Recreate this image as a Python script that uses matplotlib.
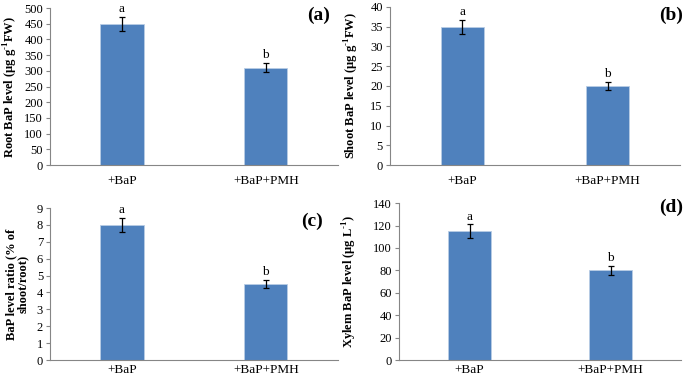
import matplotlib
matplotlib.use("Agg")
import matplotlib.pyplot as plt

plt.rcParams['font.family'] = ['Liberation Serif', 'DejaVu Serif']
plt.rcParams['mathtext.fontset'] = 'custom'
plt.rcParams['mathtext.rm'] = 'Liberation Serif'
plt.rcParams['mathtext.bf'] = 'Liberation Serif:bold'

categories = ["+BaP", "+BaP+PMH"]
root_vals = [450, 310]
root_err = [22, 15]
shoot_vals = [35, 20]
shoot_err = [1.8, 1.1]
ratio_vals = [8.0, 4.5]
ratio_err = [0.4, 0.25]
xylem_vals = [115, 80]
xylem_err = [6, 4]
letters = ["a", "b"]

sup = r"$^{\mathbf{\text{-}1}}$"
panels = [
    dict(pos=[0.073, 0.5646, 0.420, 0.414], vals=root_vals, err=root_err, ylim=500, step=50,
         ylabel="Root BaP level (µg g" + sup + "FW)", tag="(a)", tagx=0.972, tagy=1.01, lx=-0.104, xpad=7),
    dict(pos=[0.569, 0.5646, 0.424, 0.417], vals=shoot_vals, err=shoot_err, ylim=40, step=5,
         ylabel="Shoot BaP level (µg g" + sup + "FW)", tag="(b)", tagx=1.01, tagy=1.0, lx=-0.10, xpad=7),
    dict(pos=[0.073, 0.0501, 0.420, 0.401], vals=ratio_vals, err=ratio_err, ylim=9, step=1,
         ylabel="BaP level ratio (% of\nshoot/root)", tag="(c)", tagx=0.948, tagy=0.967, lx=-0.073, xpad=3),
    dict(pos=[0.5825, 0.0501, 0.4117, 0.414], vals=xylem_vals, err=xylem_err, ylim=140, step=20,
         ylabel="Xylem BaP level (µg L" + sup + ")", tag="(d)", tagx=1.007, tagy=1.03, lx=-0.142, xpad=3),
]

fig = plt.figure(figsize=(6.85, 3.79), dpi=100)
for p in panels:
    ax = fig.add_axes(p["pos"])
    x = list(range(len(categories)))
    ax.bar(x, p["vals"], width=0.3, color="#4F81BD", edgecolor="#B9CDE5", linewidth=0.6, zorder=2)
    ax.errorbar(x, p["vals"], yerr=p["err"], fmt="none", ecolor="black", elinewidth=0.9,
                capsize=2.5, capthick=0.9, zorder=3)
    for xi, v, e, l in zip(x, p["vals"], p["err"], letters):
        ax.text(xi, v + e + p["ylim"] * 0.012, l, ha="center", va="bottom", fontsize=9.5)
    ax.set_xlim(-0.5, 1.5)
    ax.set_ylim(0, p["ylim"])
    ticks = [i * p["step"] for i in range(int(round(p["ylim"] / p["step"])) + 1)]
    ax.set_yticks(ticks)
    ax.set_yticklabels([str(t) for t in ticks], fontsize=9)
    ax.set_xticks(x)
    ax.set_xticklabels(categories, fontsize=9.5)
    ax.tick_params(axis="x", length=0, pad=p["xpad"])
    ax.tick_params(axis="y", length=3, color="#868686", pad=2)
    for s in ["top", "right"]:
        ax.spines[s].set_visible(False)
    for s in ["left", "bottom"]:
        ax.spines[s].set_color("#868686")
        ax.spines[s].set_linewidth(0.8)
    ax.set_ylabel(p["ylabel"], fontsize=9, fontweight="bold", linespacing=1.0)
    ax.yaxis.set_label_coords(p["lx"], 0.5)
    ax.text(p["tagx"], p["tagy"], p["tag"], transform=ax.transAxes, ha="right", va="top",
            fontsize=14, fontweight="bold", clip_on=False)

fig.savefig("out.png", dpi=100)
